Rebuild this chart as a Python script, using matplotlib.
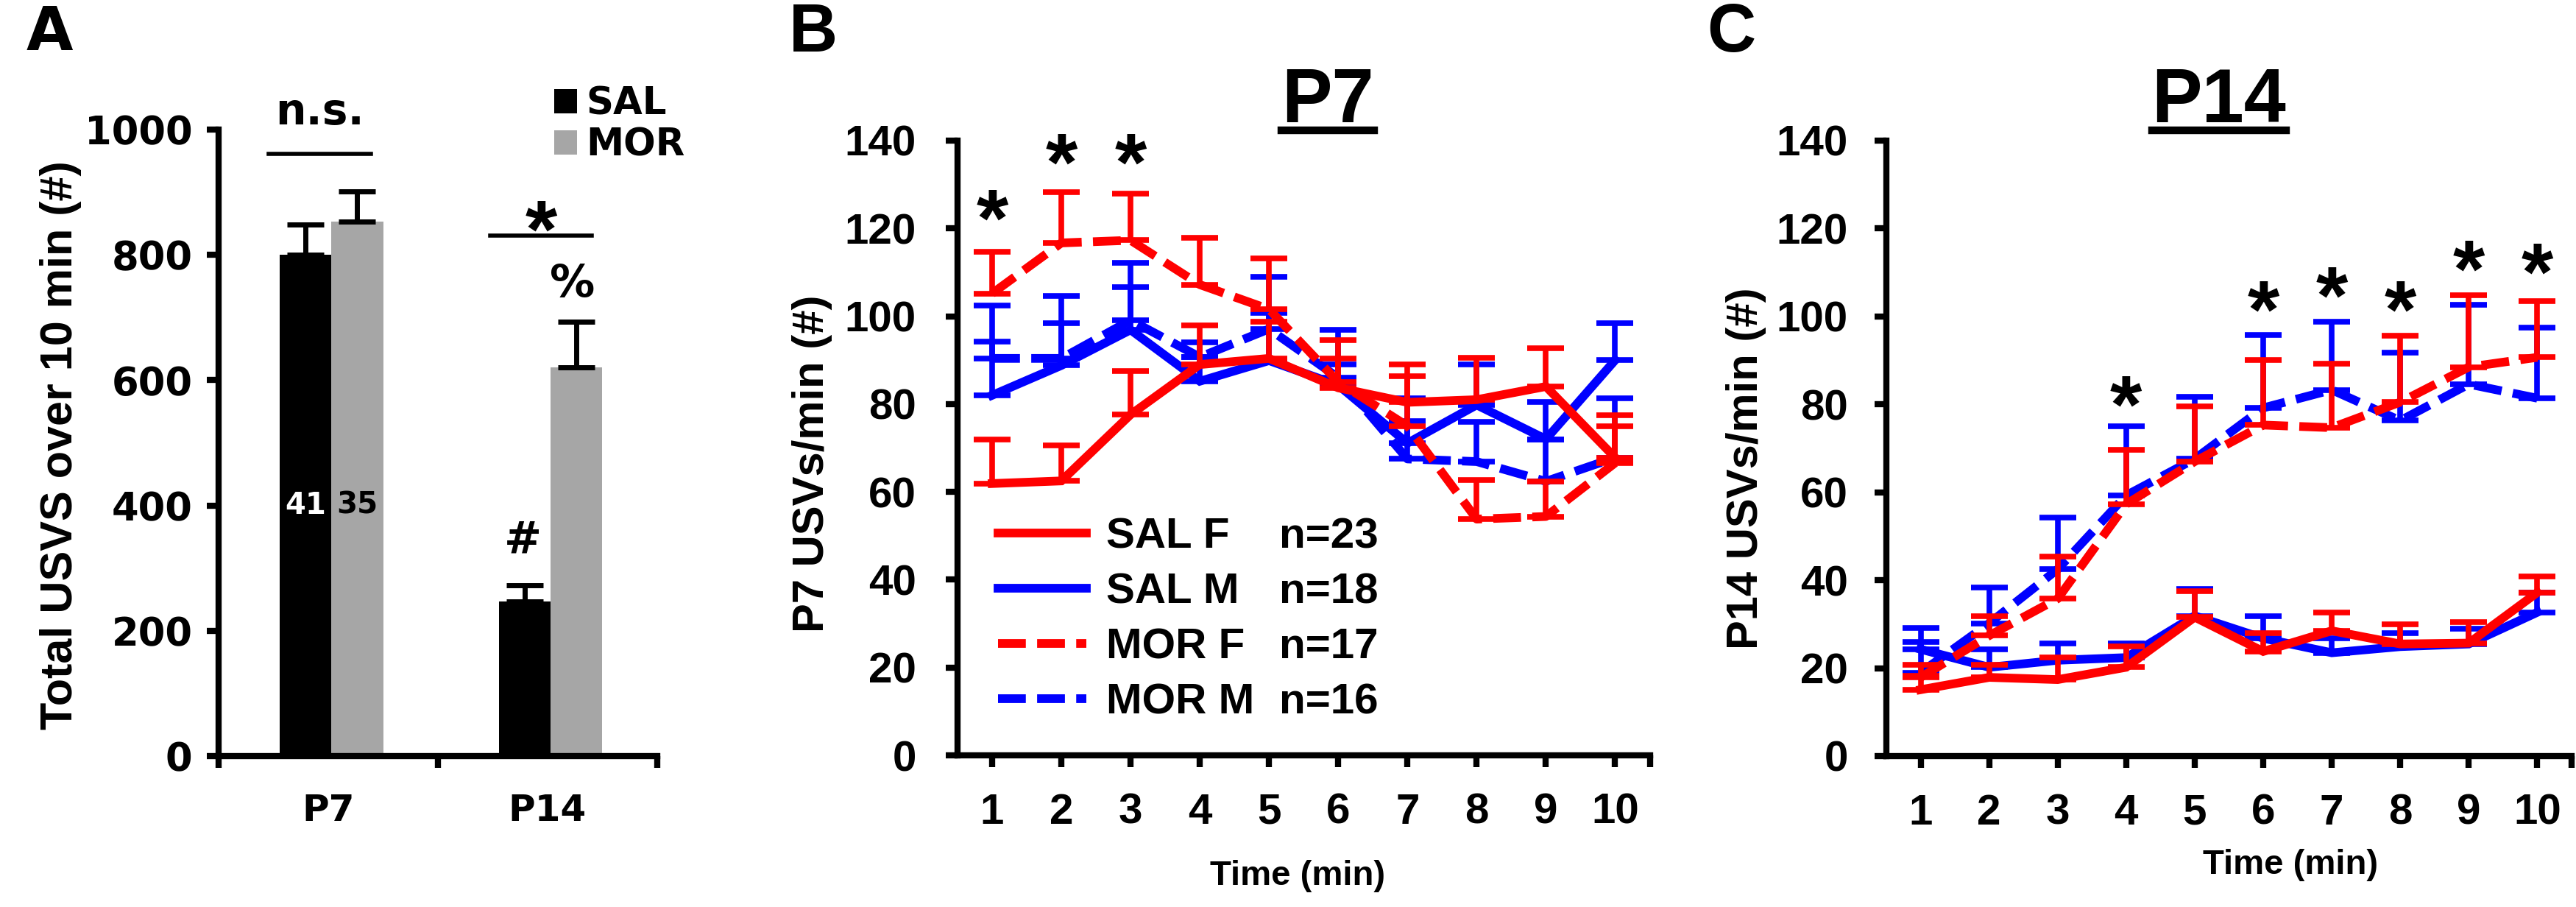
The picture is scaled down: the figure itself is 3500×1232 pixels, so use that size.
import matplotlib
matplotlib.use('Agg')
import matplotlib.pyplot as plt
import numpy as np
from matplotlib.lines import Line2D

plt.rcParams['font.family'] = ['Liberation Sans', 'DejaVu Sans']
plt.rcParams['font.weight'] = 'bold'
plt.rcParams['axes.labelweight'] = 'bold'
NARROW = ['Liberation Sans Narrow', 'Liberation Sans', 'DejaVu Sans']
WIDE = ['DejaVu Sans']

# ---------------- data ----------------
ages = ['P7', 'P14']
sal_total = [800, 247]
sal_total_top = [849, 273]
mor_total = [853, 620]
mor_total_top = [901, 693]
n_sal_total = '41'
n_mor_total = '35'

minutes = list(range(1, 11))

p7_sal_f = [61.9, 62.5, 77.6, 89.0, 90.4, 83.7, 80.4, 81.0, 84.0, 67.8]
p7_sal_f_top = [72.0, 70.6, 87.6, 98.0, 98.8, 90.3, 89.1, 90.6, 92.7, 77.4]
p7_sal_m = [82.0, 88.8, 96.9, 85.2, 89.9, 84.3, 71.1, 79.8, 72.0, 90.0]
p7_sal_m_top = [94.3, 98.5, 106.6, 90.7, 100.8, 89.0, 81.3, 89.1, 80.4, 98.4]
p7_mor_f = [105.2, 116.7, 117.3, 107.2, 101.6, 85.0, 75.0, 53.8, 54.4, 66.6]
p7_mor_f_top = [114.7, 128.2, 127.9, 117.8, 113.1, 94.5, 86.4, 62.7, 62.4, 75.0]
p7_mor_m = [90.4, 90.4, 99.1, 90.7, 97.1, 86.0, 67.5, 66.9, 62.4, 67.8]
p7_mor_m_top = [102.4, 104.7, 112.2, 94.1, 108.9, 96.9, 76.2, 75.9, 72.0, 81.3]

p14_sal_f = [15.1, 17.9, 17.4, 20.2, 31.6, 23.8, 28.5, 25.5, 25.7, 37.2]
p14_sal_f_top = [18.2, 20.7, 22.4, 24.9, 37.5, 28.0, 32.7, 29.9, 30.5, 40.8]
p14_sal_m = [24.3, 20.2, 21.8, 22.4, 31.9, 26.8, 23.5, 24.9, 25.5, 32.7]
p14_sal_m_top = [29.1, 24.3, 25.7, 25.7, 38.0, 31.9, 26.8, 28.0, 29.0, 37.2]
p14_mor_f = [17.9, 27.4, 35.8, 57.3, 67.0, 75.3, 74.7, 80.5, 88.5, 90.7]
p14_mor_f_top = [20.7, 31.9, 45.3, 69.7, 79.5, 90.1, 89.3, 95.6, 104.8, 103.5]
p14_mor_m = [19.0, 30.2, 42.5, 59.3, 67.6, 79.2, 83.3, 76.3, 84.6, 81.4]
p14_mor_m_top = [26.0, 38.3, 54.3, 75.1, 81.7, 95.8, 98.8, 91.7, 102.7, 97.4]

group_labels = ['SAL F', 'SAL M', 'MOR F', 'MOR M']
group_n = ['n=23', 'n=18', 'n=17', 'n=16']

p7_star_min = [1, 2, 3]
p7_star_y = [126.5, 139.3, 139.3]
p14_star_min = [4, 6, 7, 8, 9, 10]
p14_star_y = [84.2, 105.8, 109.0, 105.8, 115.1, 114.4]

# annotations of panel A (category units, value units)
ns_line = [0.228, 0.695, 961]
star_line = [1.238, 1.701, 831]

# ---------------- figure ----------------
W, H = 3500, 1232
fig = plt.figure(figsize=(W / 100, H / 100), dpi=100)


def rect(x0, x1, ytop, ybot):
    return [x0 / W, 1 - ybot / H, (x1 - x0) / W, (ybot - ytop) / H]


def style(ax, fs, ypad, xpad):
    for s in ['top', 'right']:
        ax.spines[s].set_visible(False)
    for s in ['left', 'bottom']:
        ax.spines[s].set_linewidth(6)
    ax.tick_params(axis='both', which='major', direction='out', length=11.5,
                   width=6, labelsize=fs)
    ax.tick_params(axis='y', pad=ypad)
    ax.tick_params(axis='x', pad=xpad)


def gtext(ax, x, yc, s, fs, rel, **kw):
    ax.annotate(s, xy=(x, yc), xytext=(0, -rel * fs), textcoords='offset points',
                ha='center', va='baseline', fontsize=fs, annotation_clip=False, **kw)


# ---------------- panel A ----------------
axA = fig.add_axes(rect(297, 893, 176, 1027))
style(axA, 38, 14, 0)
axA.set_xlim(0, 2)
axA.set_ylim(0, 1000)
axA.set_yticks(np.arange(0, 1001, 200))
for lab in axA.get_yticklabels():
    lab.set_family(WIDE)
axA.set_xticks([0, 1, 2])
axA.set_xticklabels([])
cat = np.arange(len(ages)) + 0.5
bw = 0.235
off = 0.015
ekw = dict(elinewidth=5, capthick=5, capsize=18, ecolor='black')
sal_err = np.array(sal_total_top) - np.array(sal_total)
mor_err = np.array(mor_total_top) - np.array(mor_total)
bS = axA.bar(cat + off - bw / 2, sal_total, bw, color='black',
             yerr=[np.zeros(2), sal_err], error_kw=ekw, label='SAL', zorder=2)
bM = axA.bar(cat + off + bw / 2, mor_total, bw, color='#A6A6A6',
             yerr=[np.zeros(2), mor_err], error_kw=ekw, label='MOR', zorder=2)
axA.set_xticks(cat, minor=True)
axA.set_xticklabels(ages, minor=True, family=WIDE)
axA.tick_params(axis='x', which='minor', length=0, pad=36, labelsize=36)
axA.set_ylabel('Total USVS over 10 min (#)', fontsize=44, va='center')
axA.yaxis.set_label_coords(-0.36, 0.496)
legA = axA.legend(handles=[bS.patches[0], bM.patches[0]], labels=['SAL', 'MOR'],
                  loc='upper left', bbox_to_anchor=(0.765, 1.07), frameon=False,
                  prop=dict(family=WIDE, size=37, weight='bold'),
                  handlelength=0.6, handleheight=0.6, handletextpad=0.25,
                  labelspacing=0.12, borderpad=0, borderaxespad=0)
gtext(axA, cat[0] + off - bw / 2, 404, n_sal_total, 29, 0.365, color='white', family=WIDE)
gtext(axA, cat[0] + off + bw / 2, 404, n_mor_total, 29, 0.365, color='black', family=WIDE)
axA.plot(ns_line[:2], [ns_line[2]] * 2, color='black', lw=4, clip_on=False)
axA.text(np.mean(ns_line[:2]), 1008, 'n.s.', ha='center', va='baseline', fontsize=42,
         family=WIDE)
axA.plot(star_line[:2], [star_line[2]] * 2, color='black', lw=4, clip_on=False)
gtext(axA, np.mean(star_line[:2]), 871, '*', 80, 0.57)
gtext(axA, cat[1] + off + bw / 2 - 0.02, 759, '%', 44, 0.36, family=WIDE)
gtext(axA, cat[1] + off - bw / 2 - 0.01, 351, '#', 44, 0.36, family=WIDE)


# ---------------- panels B and C ----------------
def line_panel(ax, series, ylabel, lab_xy, xlab_xy, stars, ypad):
    style(ax, 42, ypad, 25)
    ax.set_xlim(0.5, 10.5)
    ax.set_ylim(0, 140)
    ax.set_yticks(np.arange(0, 141, 20))
    ax.set_xticks(minutes + [10.5])
    ax.set_xticklabels([str(m) for m in minutes] + [''])
    handles = {}
    for mean, top, col, dashed, lab in series:
        mean = np.array(mean)
        err = np.array(top) - mean
        kw = dict(color=col, lw=8.5, solid_joinstyle='miter', zorder=3)
        if dashed:
            kw.update(dashes=(3.2, 1.3), dash_capstyle='butt')
        ln, = ax.plot(minutes, mean, **kw)
        ax.errorbar(minutes, mean, yerr=[np.zeros_like(err), err], fmt='none',
                    ecolor=col, elinewidth=5.5, capsize=18, capthick=5.5, zorder=3)
        handles[lab] = ln
    ax.set_ylabel(ylabel, fontsize=43, va='center')
    ax.yaxis.set_label_coords(*lab_xy)
    ax.set_xlabel('Time (min)', fontsize=34, va='center')
    ax.xaxis.set_label_coords(*xlab_xy)
    for xm, ys in zip(*stars):
        gtext(ax, xm, ys, '*', 80, 0.57)
    return handles


red, blue = '#FF0000', '#0000FF'
axB = fig.add_axes(rect(1301, 2241.5, 191, 1026))
hB = line_panel(axB, [
    (p7_sal_m, p7_sal_m_top, blue, False, 'SAL M'),
    (p7_mor_m, p7_mor_m_top, blue, True, 'MOR M'),
    (p7_sal_f, p7_sal_f_top, red, False, 'SAL F'),
    (p7_mor_f, p7_mor_f_top, red, True, 'MOR F'),
], 'P7 USVs/min (#)', (-0.2105, 0.475), (0.491, -0.197),
    (p7_star_min, p7_star_y), 29)

axC = fig.add_axes(rect(2563, 3494, 191, 1027))
line_panel(axC, [
    (p14_sal_m, p14_sal_m_top, blue, False, 'SAL M'),
    (p14_mor_m, p14_mor_m_top, blue, True, 'MOR M'),
    (p14_sal_f, p14_sal_f_top, red, False, 'SAL F'),
    (p14_mor_f, p14_mor_f_top, red, True, 'MOR F'),
], 'P14 USVs/min (#)', (-0.205, 0.468), (0.59, -0.177),
    (p14_star_min, p14_star_y), 26)

legB = axB.legend(handles=[hB[g] for g in group_labels], labels=group_labels,
                  loc='upper left', bbox_to_anchor=(0.0585, 0.388), frameon=False,
                  fontsize=42, handlelength=2.05, handletextpad=0.47,
                  labelspacing=0.36, borderpad=0, borderaxespad=0)

# panel letters and titles
fig.text(67 / W, 1 - 45 / H, 'A', ha='center', va='center', fontsize=59,
         family=WIDE, weight='bold')
fig.text(1105 / W, 1 - 46 / H, 'B', ha='center', va='center', fontsize=66, family=NARROW)
fig.text(2352 / W, 1 - 46 / H, 'C', ha='center', va='center', fontsize=66, family=NARROW)
tP7 = fig.text(1804 / W, 1 - 166 / H, 'P7', ha='center', va='baseline', fontsize=74, family=NARROW)
tP14 = fig.text(3015 / W, 1 - 166 / H, 'P14', ha='center', va='baseline', fontsize=74, family=NARROW)

fig.canvas.draw()
r = fig.canvas.get_renderer()
for t in (tP7, tP14):
    bb = t.get_window_extent(r)
    fig.add_artist(Line2D([bb.x0 / W, bb.x1 / W], [1 - 177 / H] * 2,
                          transform=fig.transFigure, color='black', lw=7.5))
for t, nt in zip(legB.get_texts(), group_n):
    bb = t.get_window_extent(r)
    fig.text(1738 / W, bb.y0 / H, nt, ha='left', va='bottom', fontsize=42)

fig.savefig('out.png', dpi=100)
